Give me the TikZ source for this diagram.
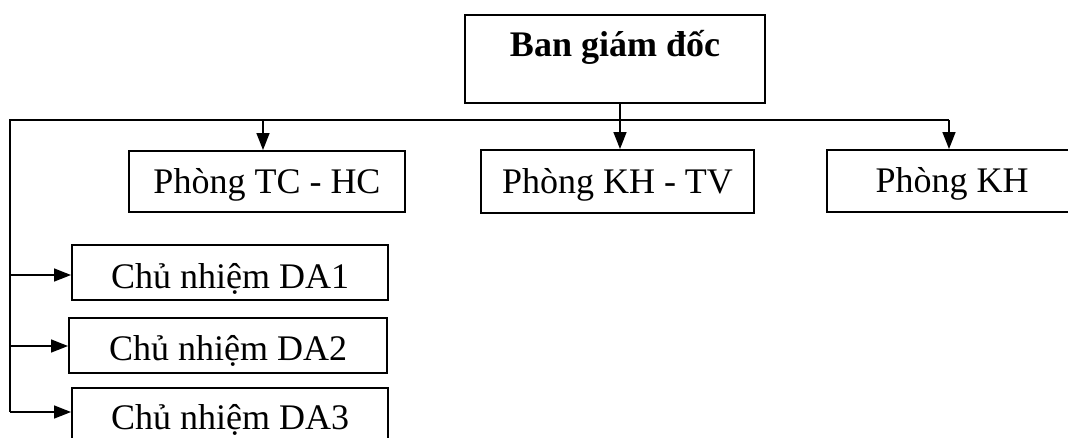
\documentclass[tikz,border=0pt]{standalone}
\usepackage{fontspec}
\setmainfont{Liberation Serif}
\usetikzlibrary{arrows.meta}
\begin{document}
\begin{tikzpicture}[x=1pt,y=1pt,
  box/.style={draw, line width=2pt, inner sep=0pt, text height=24pt, text depth=0pt,
    font=\fontsize{36pt}{40pt}\selectfont},
  conn/.style={line width=1.6pt},
  arr/.style={conn, -{Triangle[length=17pt,width=13pt]}}]
\useasboundingbox (0,0) rectangle (1068,-437);
\node[box, font=\fontsize{36pt}{40pt}\selectfont\bfseries, minimum width=300pt, minimum height=88pt, text depth=29pt] (ban) at (615,-59) {Ban giám đốc};
\node[box, minimum width=276pt, minimum height=61pt] (tchc) at (267,-181.5) {Phòng TC - HC};
\node[box, minimum width=273pt, minimum height=63pt] (khtv) at (617.5,-181.5) {Phòng KH - TV};
\node[box, minimum width=250pt, minimum height=62pt, text height=22pt] (kh) at (952,-181) {Phòng KH};
\node[box, minimum width=316pt, minimum height=55pt, text height=32pt] (da1) at (230,-272.5) {Chủ nhiệm DA1};
\node[box, minimum width=318pt, minimum height=55pt, text height=29pt] (da2) at (228,-345.5) {Chủ nhiệm DA2};
\node[box, minimum width=316pt, minimum height=55pt, text height=28pt] (da3) at (230,-415.5) {Chủ nhiệm DA3};
\coordinate (L) at (10,-120);
\coordinate (R) at (949,-120);
\coordinate (m) at (620,-120);
\coordinate (c1) at (263,-120);
\coordinate (a1) at (10,-275);
\coordinate (a2) at (10,-346);
\coordinate (a3) at (10,-412);
\draw[conn] (R) -- (L) -- (a3);
\draw[arr] (m |- ban.south) -- (m |- khtv.north);
\draw[arr] (c1) -- (c1 |- tchc.north);
\draw[arr] (R) -- (R |- kh.north);
\draw[arr] (a1) -- (a1 -| da1.west);
\draw[arr] (a2) -- (a2 -| da2.west);
\draw[arr] (a3) -- (a3 -| da3.west);
\end{tikzpicture}
\end{document}
